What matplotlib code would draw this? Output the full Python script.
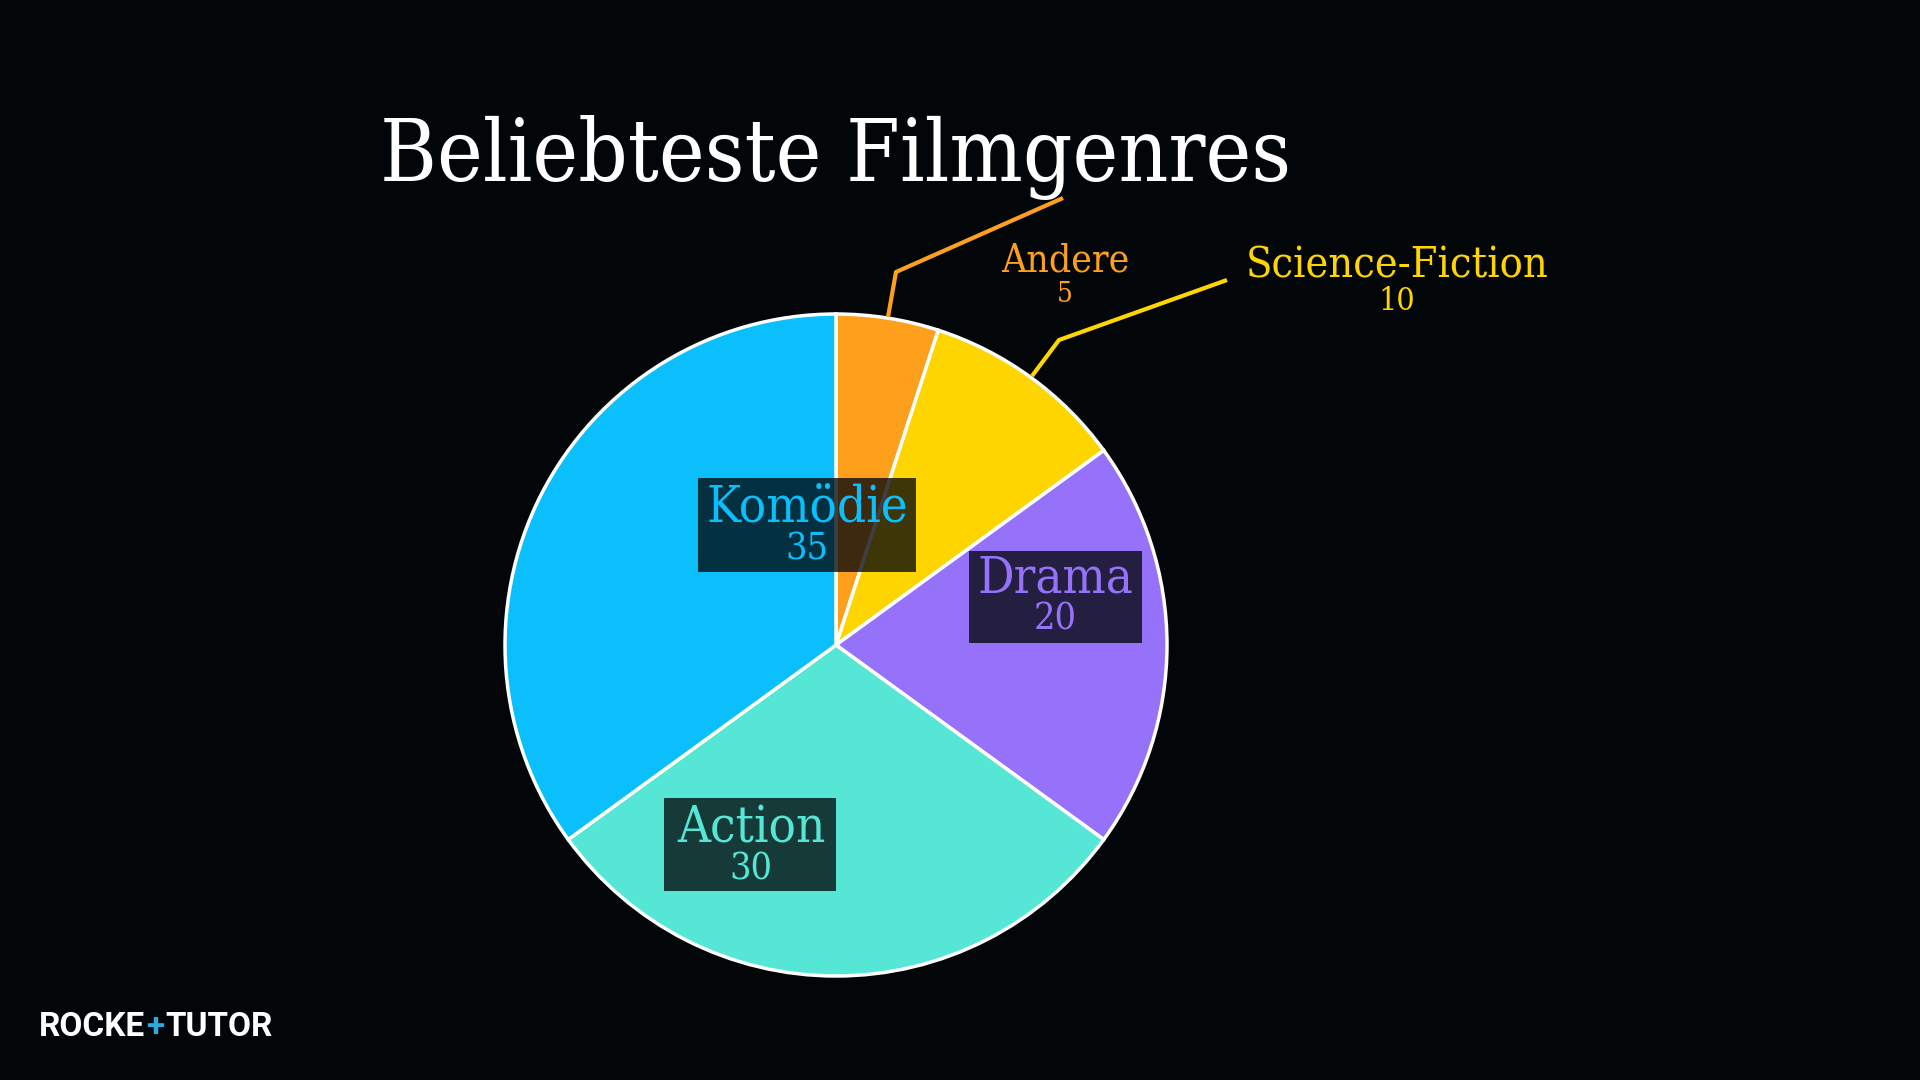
import matplotlib.pyplot as plt
from matplotlib.patches import Rectangle
from matplotlib import font_manager

# data
genres = ['Andere', 'Science-Fiction', 'Drama', 'Action', 'Komödie']
counts = [5, 10, 20, 30, 35]
colors = ['#FFA01C', '#FFD500', '#9672FB', '#55E6D6', '#0ABFFC']

bg = '#020609'
H = 1080

# condensed serif if it is there
names = set(f.name for f in font_manager.fontManager.ttflist)
if 'DejaVu Serif Condensed' in names:
    serif = dict(family='DejaVu Serif Condensed')
else:
    serif = dict(family='DejaVu Serif', fontstretch='condensed')

fig = plt.figure(figsize=(19.2, 10.8), dpi=100, facecolor=bg)
ax = fig.add_axes([0, 0, 1, 1])
ax.set_facecolor(bg)

cx, cy, r = 836, H - 645, 331
ax.pie(counts, colors=colors, startangle=90, counterclock=False,
       center=(cx, cy), radius=r,
       wedgeprops=dict(edgecolor='white', linewidth=2.5))
ax.set_xlim(0, 1920)
ax.set_ylim(0, H)
ax.set_aspect('equal')
ax.axis('off')

# title
ax.text(836, H - 158, 'Beliebteste Filmgenres', color='white',
        fontsize=62, ha='center', va='center', **serif)

# labels inside slices: name pos, number pos, box x0, y0, x1, y1
inside = {
    'Komödie': ((807, 508), (807, 549), (698, 478, 916, 572)),
    'Drama': ((1055, 579), (1055, 620), (969, 551, 1142, 643)),
    'Action': ((751, 829), (751, 869), (664, 798, 836, 891)),
}
for g, (npos, vpos, box) in inside.items():
    i = genres.index(g)
    x0, y0, x1, y1 = box
    ax.add_patch(Rectangle((x0, H - y1), x1 - x0, y1 - y0,
                           facecolor=bg, alpha=0.77, edgecolor='none', zorder=3))
    ax.text(npos[0], H - npos[1], g, color=colors[i],
            fontsize=36.5, ha='center', va='center', zorder=4, **serif)
    ax.text(vpos[0], H - vpos[1], str(counts[i]), color=colors[i],
            fontsize=27, ha='center', va='center', zorder=4, **serif)

# labels outside with leader lines
outside = {
    'Andere': ((1065, 261), (1065, 294), [(888, 317), (896, 272), (1063, 198)], 28, 20),
    'Science-Fiction': ((1397, 266), (1397, 301), [(1032, 376), (1059, 340), (1227, 280)], 31, 23),
}
for g, (npos, vpos, pts, fs1, fs2) in outside.items():
    i = genres.index(g)
    xs = [p[0] for p in pts]
    ys = [H - p[1] for p in pts]
    ax.plot(xs, ys, color=colors[i], lw=3, solid_capstyle='butt')
    ax.text(npos[0], H - npos[1], g, color=colors[i],
            fontsize=fs1, ha='center', va='center', **serif)
    ax.text(vpos[0], H - vpos[1], str(counts[i]), color=colors[i],
            fontsize=fs2, ha='center', va='center', **serif)

# logo
logo = [('ROCKE', 'white'), ('+', '#2FA8E0'), ('TUTOR', 'white')]
x = 39
for part, c in logo:
    t = ax.text(x, H - 1027, part, color=c, family='Roboto', fontweight='bold',
                fontsize=24, ha='left', va='center')
    fig.canvas.draw()
    bb = t.get_window_extent()
    x = bb.x1 + 1

fig.savefig('out.png', dpi=100, facecolor=bg)
